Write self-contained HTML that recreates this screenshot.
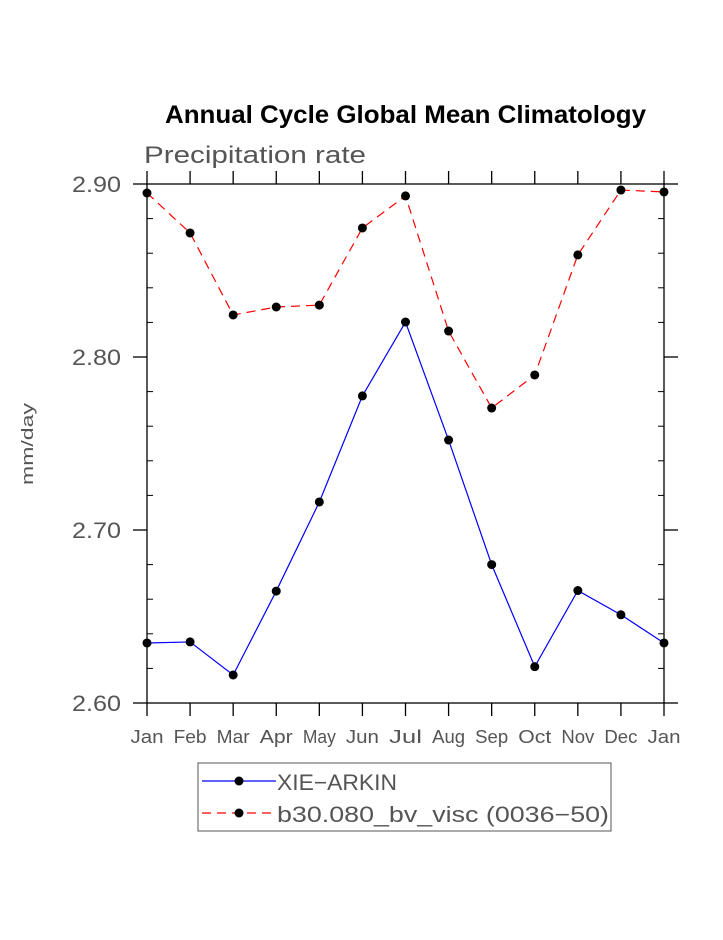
<!DOCTYPE html>
<html><head><meta charset="utf-8"><style>
body{margin:0;background:#fff;width:723px;height:935px;overflow:hidden}
svg text{font-family:"Liberation Sans",sans-serif}
</style></head><body>
<svg id="chart" width="723" height="935" xmlns="http://www.w3.org/2000/svg">
<text x="165" y="123" font-size="25" font-weight="bold" fill="#000" textLength="481" lengthAdjust="spacingAndGlyphs">Annual Cycle Global Mean Climatology</text>
<text x="144" y="163" font-size="24" fill="#555" textLength="222" lengthAdjust="spacingAndGlyphs">Precipitation rate</text>
<text transform="translate(33,444) rotate(-90)" text-anchor="middle" font-size="17" fill="#555" textLength="82" lengthAdjust="spacingAndGlyphs">mm/day</text>
<g id="axes"></g>
<g id="series"></g>
<g>
<rect x="198" y="763" width="413" height="68" fill="none" stroke="#555" stroke-width="1"/>
<line x1="202" y1="781" x2="276" y2="781" stroke="#0000ff" stroke-width="1.2"/>
<circle cx="239" cy="781" r="4.5" fill="#000"/>
<text x="277" y="790" font-size="22" fill="#555" textLength="120" lengthAdjust="spacingAndGlyphs">XIE−ARKIN</text>
<line x1="202" y1="813" x2="276" y2="813" stroke="#ff0000" stroke-width="1.2" stroke-dasharray="9,6"/>
<circle cx="239" cy="813" r="4.5" fill="#000"/>
<text x="277" y="822" font-size="22" fill="#555" textLength="332" lengthAdjust="spacingAndGlyphs">b30.080_bv_visc (0036−50)</text>
</g>
</svg>
<script>
const months=["Jan","Feb","Mar","Apr","May","Jun","Jul","Aug","Sep","Oct","Nov","Dec","Jan"];
const xieArkin=[2.6347,2.6353,2.6162,2.6647,2.7162,2.7775,2.8202,2.752,2.680,2.621,2.665,2.651,2.6347];
const b30=[2.8948,2.8717,2.8243,2.8289,2.830,2.8746,2.8931,2.815,2.7705,2.7896,2.859,2.8965,2.8954];
const yTicks=[2.60,2.70,2.80,2.90];
const yTickLabels=["2.60","2.70","2.80","2.90"];
const X0=147,X1=664,Y0=703,Y1=184,ymin=2.6,ymax=2.9;
const xs=i=>X0+(X1-X0)*i/(months.length-1);
const ys=v=>Y0-(v-ymin)/(ymax-ymin)*(Y0-Y1);
const NS="http://www.w3.org/2000/svg";
function mk(tag,attrs,parent){const e=document.createElementNS(NS,tag);for(const k in attrs)e.setAttribute(k,attrs[k]);parent.appendChild(e);return e;}
const ax=document.getElementById('axes');
const frame=mk('rect',{x:X0,y:Y1,width:X1-X0,height:Y0-Y1,fill:'none',stroke:'#000','stroke-width':1.3},ax);


months.forEach((m,i)=>{
  const x=xs(i);
  mk('line',{x1:x,y1:Y0,x2:x,y2:Y0+13,stroke:'#000','stroke-width':1.3},ax);
  mk('line',{x1:x,y1:Y1,x2:x,y2:Y1-13,stroke:'#000','stroke-width':1.3},ax);
  const t=mk('text',{x:x,y:743,'text-anchor':'middle','font-size':18,fill:'#555',textLength:33,lengthAdjust:'spacingAndGlyphs'},ax);
  t.textContent=m;
  
  
});
yTicks.forEach((v,i)=>{
  const y=ys(v);
  mk('line',{x1:X0-14,y1:y,x2:X0,y2:y,stroke:'#000','stroke-width':1.3},ax);
  mk('line',{x1:X1,y1:y,x2:X1+14,y2:y,stroke:'#000','stroke-width':1.3},ax);
  const t=mk('text',{x:72,y:y+8,'font-size':22,fill:'#555',textLength:49,lengthAdjust:'spacingAndGlyphs'},ax);
  t.textContent=yTickLabels[i];
  
  
});
for(let v=2.62;v<2.9;v+=0.02){
  const y=ys(v);
  if(Math.abs(((v-2.6)/0.1)-Math.round((v-2.6)/0.1))<1e-6)continue;
  mk('line',{x1:X0,y1:y,x2:X0+6,y2:y,stroke:'#000','stroke-width':1},ax);
  mk('line',{x1:X1-6,y1:y,x2:X1,y2:y,stroke:'#000','stroke-width':1},ax);
}
const sg=document.getElementById('series');
function drawSeries(vals,color,dash,name){
  const p=mk('polyline',{points:vals.map((v,i)=>xs(i)+','+ys(v)).join(' '),fill:'none',stroke:color,'stroke-width':1.2,'stroke-dasharray':dash},sg);
  
  
  vals.forEach((v,i)=>{
    const c=mk('circle',{cx:xs(i),cy:ys(v),r:4.5,fill:'#000'},sg);
    
    
  });
}
drawSeries(xieArkin,'#0000ff','none','xie-arkin');
drawSeries(b30,'#ff0000','9,6','b30');
</script>
</body></html>
